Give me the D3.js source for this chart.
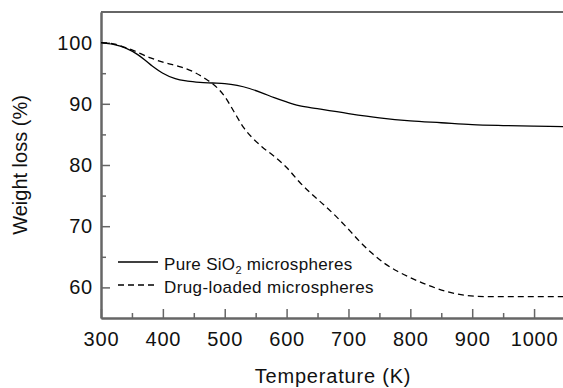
<!DOCTYPE html>
<html>
<head>
<meta charset="utf-8">
<script src="https://cdn.jsdelivr.net/npm/d3@7"></script>
<style>
  body { margin: 0; background: #fff; }
  text { font-family: "Liberation Sans", Arial, Helvetica, sans-serif; fill: #111; }
</style>
</head>
<body>
<div id="chart"></div>
<script>
// temperature (K) and weight (%)
var pureTemp = [300, 320, 340, 360, 380, 400, 420, 440, 460, 480, 500, 520, 540, 560, 580, 600, 620, 650, 700, 750, 800, 850, 900, 950, 1000, 1050];
var pureWeight = [100, 99.7, 99.1, 98.0, 96.4, 95.0, 94.1, 93.7, 93.5, 93.4, 93.3, 93.0, 92.5, 91.8, 91.0, 90.3, 89.7, 89.2, 88.4, 87.7, 87.2, 86.9, 86.6, 86.45, 86.35, 86.25];

var drugTemp = [300, 320, 350, 380, 400, 430, 450, 470, 480, 490, 500, 515, 530, 545, 560, 580, 600, 620, 640, 660, 680, 700, 720, 740, 760, 780, 800, 830, 860, 890, 920, 960, 1000, 1050];
var drugWeight = [100, 99.8, 98.8, 97.5, 96.8, 96.0, 95.2, 94.0, 93.3, 92.4, 91.2, 88.7, 86.2, 84.4, 83.0, 81.4, 79.6, 77.3, 75.3, 73.5, 71.6, 69.5, 67.3, 65.4, 63.8, 62.6, 61.6, 60.3, 59.3, 58.7, 58.5, 58.5, 58.5, 58.5];

var xTicks = [300, 400, 500, 600, 700, 800, 900, 1000];
var yTicks = [60, 70, 80, 90, 100];

//svg size
var svgWidth = 563;
var svgHeight = 388;

var margin = {top: 12, left: 101, bottom: 70};
var plotRight = 565;

var svg = d3.select("#chart")
    .append("svg")
    .attr("width", svgWidth)
    .attr("height", svgHeight);

var xScale = d3.scaleLinear()
    .domain([300, 1050])
    .range([margin.left, plotRight]);

var yScale = d3.scaleLinear()
    .domain([55, 105])
    .range([svgHeight - margin.bottom, margin.top]);

var axisColor = "#666";

//minor ticks inward
var xMinor = d3.range(350, 1050, 100);
var yMinor = d3.range(65, 105, 10);

var bottomAxis = d3.axisBottom(xScale).tickValues(xTicks).tickFormat(d3.format("d"))
    .tickSizeInner(-9).tickSizeOuter(0).tickPadding(14);
var leftAxis = d3.axisLeft(yScale).tickValues(yTicks).tickFormat(d3.format("d"))
    .tickSizeInner(-9).tickSizeOuter(0).tickPadding(8);

var xAxis = svg.append("g")
    .attr("transform", `translate(0, ${yScale(55)})`)
    .call(bottomAxis);

var yAxis = svg.append("g")
    .attr("transform", `translate(${xScale(300)}, 0)`)
    .call(leftAxis);

svg.append("g")
    .attr("transform", `translate(0, ${yScale(55)})`)
    .call(d3.axisBottom(xScale).tickValues(xMinor).tickSizeInner(-5).tickSizeOuter(0).tickFormat(""));

svg.append("g")
    .attr("transform", `translate(${xScale(300)}, 0)`)
    .call(d3.axisLeft(yScale).tickValues(yMinor).tickSizeInner(-5).tickSizeOuter(0).tickFormat(""));

svg.selectAll(".domain").attr("stroke", axisColor).attr("stroke-width", 2);
svg.selectAll(".tick line").attr("stroke", axisColor).attr("stroke-width", 1.5);

svg.selectAll(".tick text")
    .style("font-size", "20px")
    .style("letter-spacing", "0.8px")
    .attr("fill", "#111");

//top frame line
svg.append("line")
    .attr("x1", xScale(300)).attr("x2", plotRight)
    .attr("y1", yScale(105)).attr("y2", yScale(105))
    .attr("stroke", axisColor)
    .attr("stroke-width", 2);

var line = d3.line()
    .x(d => xScale(d[0]))
    .y(d => yScale(d[1]))
    .curve(d3.curveMonotoneX);

var pureData = d3.zip(pureTemp, pureWeight);
var drugData = d3.zip(drugTemp, drugWeight);

svg.append("path")
    .datum(pureData)
    .attr("fill", "none")
    .attr("stroke", "#000")
    .attr("stroke-width", 1.3)
    .attr("d", line);

svg.append("path")
    .datum(drugData)
    .attr("fill", "none")
    .attr("stroke", "#000")
    .attr("stroke-width", 1.3)
    .attr("stroke-dasharray", "6,4")
    .attr("d", line);

//legend
var legend = svg.append("g").attr("transform", "translate(118, 262)");

legend.append("line")
    .attr("x1", 0).attr("x2", 40).attr("y1", 0).attr("y2", 0)
    .attr("stroke", "#000").attr("stroke-width", 1.3);

legend.append("line")
    .attr("x1", 0).attr("x2", 40).attr("y1", 23).attr("y2", 23)
    .attr("stroke", "#000").attr("stroke-width", 1.3)
    .attr("stroke-dasharray", "6,4");

var t1 = legend.append("text")
    .attr("x", 46).attr("y", 8)
    .style("font-size", "17px")
    .style("letter-spacing", "0.3px");
t1.append("tspan").text("Pure SiO");
t1.append("tspan").attr("dy", 4).style("font-size", "11px").text("2");
t1.append("tspan").attr("dy", -4).text(" microspheres");

legend.append("text")
    .attr("x", 46).attr("y", 31)
    .style("font-size", "17px")
    .style("letter-spacing", "0.4px")
    .text("Drug-loaded microspheres");

//axis titles
svg.append("text")
    .attr("x", 333)
    .attr("y", 383)
    .attr("text-anchor", "middle")
    .style("font-size", "20px")
    .style("letter-spacing", "0.8px")
    .text("Temperature (K)");

svg.append("text")
    .attr("transform", `translate(27, ${(yScale(55) + yScale(105)) / 2}) rotate(-90)`)
    .attr("text-anchor", "middle")
    .style("font-size", "20px")
    .text("Weight loss (%)");
</script>
</body>
</html>
